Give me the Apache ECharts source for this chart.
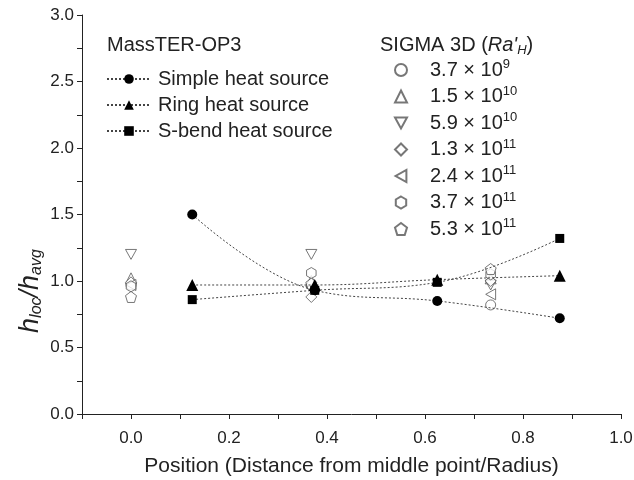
<!DOCTYPE html>
<html><head><meta charset="utf-8">
<script src="https://cdn.jsdelivr.net/npm/echarts@6/dist/echarts.min.js"></script>
<style>html,body{margin:0;padding:0;background:#fff}#c{width:634px;height:480px}</style>
</head><body><div id="c"></div>
<script>
// MassTER-OP3 data
const opX = [0.125, 0.375, 0.625, 0.875];
const simpleY = [1.50, 0.93, 0.85, 0.72];
const ringY = [0.97, 0.97, 1.01, 1.04];
const sbendY = [0.86, 0.93, 0.99, 1.32];
const opNames = ['Simple heat source', 'Ring heat source', 'S-bend heat source'];

// SIGMA 3D data
const sigX = [0.0, 0.368, 0.734];
const sigLabels = [['3.7','9'], ['1.5','10'], ['5.9','10'], ['1.3','11'], ['2.4','11'], ['3.7','11'], ['5.3','11']];
const sig1 = [0.97, 0.97, 0.82];   // 3.7e9 circle
const sig2 = [1.02, 1.00, 1.02];   // 1.5e10 up triangle
const sig3 = [1.20, 1.20, 0.97];   // 5.9e10 down triangle
const sig4 = [0.99, 0.88, 1.00];   // 1.3e11 diamond
const sig5 = [0.97, 0.95, 0.90];   // 2.4e11 left triangle
const sig6 = [0.96, 1.06, 1.05];   // 3.7e11 hexagon
const sig7 = [0.88, 0.98, 1.09];   // 5.3e11 pentagon
const sigVals = [sig1, sig2, sig3, sig4, sig5, sig6, sig7];

const xTicks = ['0.0','0.2','0.4','0.6','0.8','1.0'];
const yTicks = ['0.0','0.5','1.0','1.5','2.0','2.5','3.0'];

const sigSymbols = [
  'circle',
  'triangle',
  'path://M0,0 L10,0 L5,9 Z',
  'diamond',
  'path://M9,0 L9,10 L0,5 Z',
  'path://M5,0 L9.33,2.5 L9.33,7.5 L5,10 L0.67,7.5 L0.67,2.5 Z',
  'path://M5,0 L10,3.8 L8.1,10 L1.9,10 L0,3.8 Z'
];
const sigSizes = [10, 11, 11, 11, 11, 11, 11];

const FONT = 'Liberation Sans, Arial, sans-serif';
const zip = (xs, ys) => xs.map((x, i) => [x, ys[i]]);

const series = [];
const opData = [simpleY, ringY, sbendY];
const opSym = ['circle', 'triangle', 'rect'];
const opSize = [10, 12, 9];
opNames.forEach((n, i) => {
  series.push({
    name: n, type: 'line', smooth: 0.4, data: zip(opX, opData[i]),
    symbol: opSym[i], symbolSize: opSize[i], showAllSymbol: true,
    lineStyle: {color: '#444', width: 1, type: [2, 2]},
    itemStyle: {color: '#000', borderWidth: 0},
    z: 3
  });
});
sigLabels.forEach((l, i) => {
  series.push({
    name: 's' + i, type: 'scatter', data: zip(sigX, sigVals[i]),
    symbol: sigSymbols[i], symbolSize: sigSizes[i], symbolKeepAspect: true,
    itemStyle: {color: '#fff', borderColor: '#555', borderWidth: 1},
    z: 2
  });
});

const chart = echarts.init(document.getElementById('c'), null, {renderer: 'canvas'});
chart.setOption({
  animation: false,
  backgroundColor: '#fff',
  textStyle: {fontFamily: FONT},
  grid: {left: 82, right: 13, top: 15, bottom: 66, containLabel: false, outerBoundsMode: 'none'},
  xAxis: {
    type: 'value', min: -0.1, max: 1.0, interval: 0.1,
    axisLine: {onZero: false, lineStyle: {color: '#222', width: 1}},
    axisTick: {inside: false, length: 5, lineStyle: {color: '#222'}},
    splitLine: {show: false},
    axisLabel: {
      fontSize: 17, color: '#222', margin: 16, fontFamily: FONT,
      formatter: v => { const k = Math.round(v * 10); return (k >= 0 && k % 2 === 0) ? xTicks[k / 2] : ''; }
    },
    name: 'Position (Distance from middle point/Radius)',
    nameLocation: 'middle', nameGap: 42,
    nameTextStyle: {fontSize: 21, color: '#222', fontFamily: FONT}
  },
  yAxis: {
    type: 'value', min: 0, max: 3.0, interval: 0.25,
    axisLine: {show: true, onZero: false, lineStyle: {color: '#222', width: 1}},
    axisTick: {show: true, inside: false, length: 5, lineStyle: {color: '#222'}},
    splitLine: {show: false},
    axisLabel: {
      fontSize: 17, color: '#222', margin: 8, fontFamily: FONT,
      formatter: v => { const k = Math.round(v * 4); return (k % 2 === 0) ? yTicks[k / 2] : ''; }
    }
  },
  legend: [
    {
      data: opNames, orient: 'vertical', left: 106, top: 69, padding: 0,
      itemWidth: 44, itemHeight: 12, itemGap: 6,
      textStyle: {fontSize: 20, color: '#222', fontFamily: FONT, padding: [0, 0, 0, 2]}
    },
    {
      data: sigLabels.map((l, i) => 's' + i), orient: 'vertical', left: 394, top: 58, padding: 0,
      itemWidth: 12, itemHeight: 12, itemGap: 4.5,
      formatter: name => { const l = sigLabels[+name.slice(1)]; return '{b|' + l[0] + ' \u00d7 10}{p|' + l[1] + '}'; },
      textStyle: {
        fontSize: 20, color: '#222', fontFamily: FONT, padding: [0, 0, 0, 18],
        rich: {
          b: {fontSize: 20, color: '#222', fontFamily: FONT, height: 21},
          p: {fontSize: 13, color: '#222', fontFamily: FONT, padding: [0, 0, 11, 0]}
        }
      }
    }
  ],
  graphic: [
    {type: 'text', left: 107, top: 35, style: {text: 'MassTER-OP3', font: '20px ' + FONT, fill: '#222'}},
    {type: 'text', left: 380, top: 35, style: {
      text: "SIGMA 3D ({i|Ra'}{s|H})", font: '20px ' + FONT, fill: '#222',
      rich: {
        i: {font: 'italic 20px ' + FONT, fill: '#222'},
        s: {font: 'italic 13px ' + FONT, fill: '#222', padding: [11, 0, 0, 0]}
      }
    }},
    {type: 'text', x: 30, y: 291, rotation: Math.PI / 2, style: {
      text: '{i|h}{s|loc}{i|/h}{s|avg}', align: 'center', verticalAlign: 'middle', fill: '#222',
      font: 'italic 27px ' + FONT,
      rich: {
        i: {font: 'italic 27px ' + FONT, fill: '#222'},
        s: {font: 'italic 16px ' + FONT, fill: '#222', padding: [14, 0, 0, 0]}
      }
    }}
  ],
  series: series
});
</script></body></html>
